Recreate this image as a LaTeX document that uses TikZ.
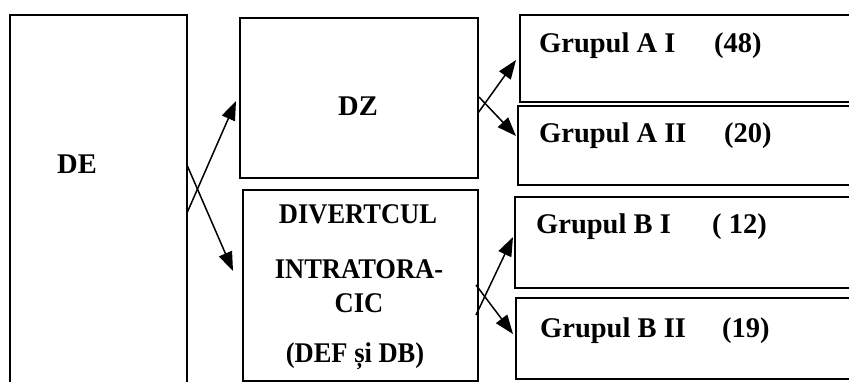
\documentclass[tikz,border=0pt]{standalone}
\usepackage{fontspec}
\setmainfont{Liberation Serif}
\usetikzlibrary{arrows.meta}
\tikzset{
  boxstyle/.style={draw=black, line width=1.7pt, inner sep=0pt},
  lbl/.style={font=\fontsize{28.5}{32}\selectfont\bfseries, inner sep=0pt, anchor=base},
  lblw/.style={lbl, anchor=base west},
  narrow/.style={xscale=0.93},
  arr/.style={line width=1.5pt, -{Triangle[length=19pt,width=14pt]}}
}
\begin{document}
\begin{tikzpicture}[x=1pt,y=-1pt]
\useasboundingbox (0,0) rectangle (849,381);
\clip (0,0) rectangle (849,381);
% boxes
\draw[boxstyle] (10,15) rectangle (187,400);
\coordinate (deA) at (187,213);
\coordinate (deB) at (187,165);
\node[boxstyle, minimum width=238pt, minimum height=160pt, anchor=north west] (dz) at (239,17) {};
\node[boxstyle, minimum width=235pt, minimum height=191pt, anchor=north west] (div) at (242,189) {};
\node[boxstyle, minimum width=340pt, minimum height=87pt, anchor=north west] (a1) at (519,14) {};
\node[boxstyle, minimum width=340pt, minimum height=79pt, anchor=north west] (a2) at (517,105) {};
\node[boxstyle, minimum width=340pt, minimum height=91pt, anchor=north west] (b1) at (514,196) {};
\node[boxstyle, minimum width=340pt, minimum height=81pt, anchor=north west] (b2) at (515,297) {};
% labels
\node[lblw] (tde) at (57,173) {DE};
\node[lbl] (tdz) at (358,115) {DZ};
\node[lbl, narrow] (td1) at (358,223) {DIVERTCUL};
\node[lbl, narrow] (td2) at (359,278) {INTRATORA-};
\node[lbl, narrow] (td3) at (359,312) {CIC};
\node[lbl, narrow] (td4) at (355,362) {(DEF și DB)};
\node[lblw] (ta1) at (539,52) {\makebox[175pt][l]{Grupul A I}(48)};
\node[lblw] (ta2) at (539,142) {\makebox[185pt][l]{Grupul A II}(20)};
\node[lblw] (tb1) at (536,233) {\makebox[176pt][l]{Grupul B I}( 12)};
\node[lblw] (tb2) at (540,337) {\makebox[182pt][l]{Grupul B II}(19)};
% arrow endpoints
\coordinate (dzin) at (236,101);
\coordinate (divin) at (233,271);
\coordinate (dzA) at (478,113);
\coordinate (dzB) at (479,97);
\coordinate (a1in) at (516,60);
\coordinate (a2in) at (516,136);
\coordinate (divA) at (476,315);
\coordinate (divB) at (476,285);
\coordinate (b1in) at (513,237);
\coordinate (b2in) at (513,334);
% arrows
\draw[arr] (deA) -- (dzin);
\draw[arr] (deB) -- (divin);
\draw[arr] (dzA) -- (a1in);
\draw[arr] (dzB) -- (a2in);
\draw[arr] (divA) -- (b1in);
\draw[arr] (divB) -- (b2in);
\end{tikzpicture}
\end{document}
